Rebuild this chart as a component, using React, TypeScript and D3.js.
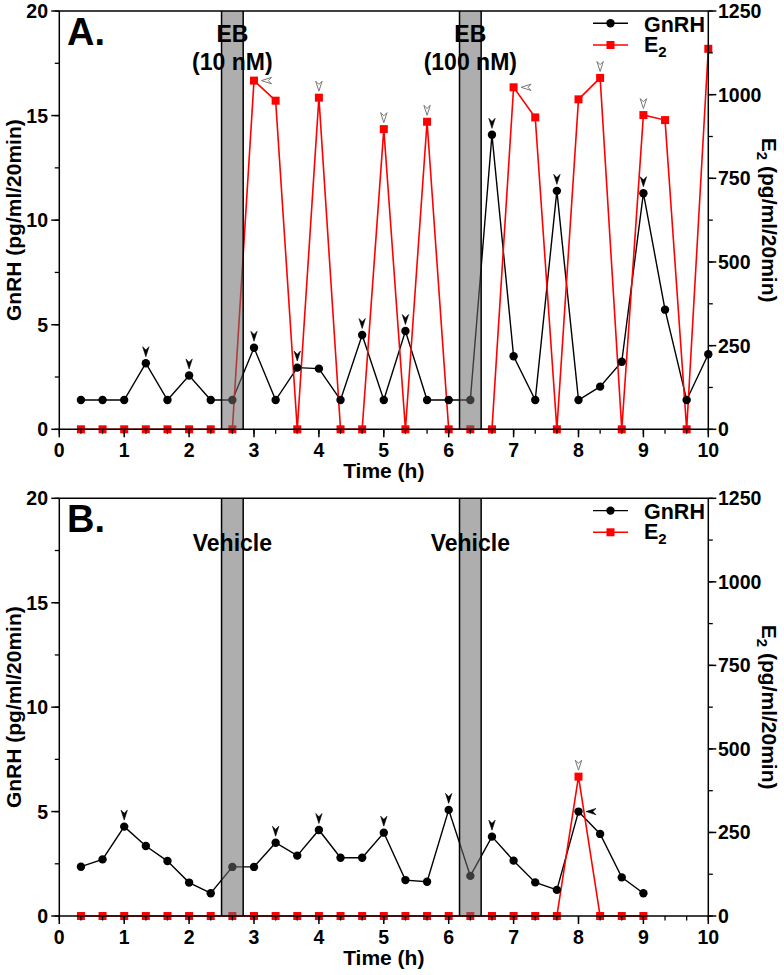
import React from "react";
import * as d3 from "d3";

// sampling times (minutes) and values
const minutesA = [20, 40, 60, 80, 100, 120, 140, 160, 180, 200, 220, 240, 260, 280, 300, 320, 340, 360, 380, 400, 420, 440, 460, 480, 500, 520, 540, 560, 580, 600];
const gnrhA = [1.4, 1.4, 1.4, 3.16, 1.4, 2.57, 1.4, 1.4, 3.9, 1.4, 2.95, 2.9, 1.4, 4.51, 1.4, 4.7, 1.4, 1.4, 1.4, 14.08, 3.49, 1.4, 11.4, 1.4, 2.04, 3.23, 11.29, 5.72, 1.4, 3.59];
const e2A = [0, 0, 0, 0, 0, 0, 0, 0, 1042, 982, 0, 991, 0, 0, 897, 0, 919, 0, 0, 0, 1022, 932, 0, 986, 1050, 0, 939, 924, 0, 1137];

const minutesB = [20, 40, 60, 80, 100, 120, 140, 160, 180, 200, 220, 240, 260, 280, 300, 320, 340, 360, 380, 400, 420, 440, 460, 480, 500, 520, 540];
const gnrhB = [2.36, 2.71, 4.28, 3.35, 2.63, 1.6, 1.09, 2.35, 2.35, 3.51, 2.89, 4.12, 2.79, 2.79, 3.99, 1.72, 1.64, 5.08, 1.92, 3.8, 2.65, 1.61, 1.25, 5.0, 3.93, 1.85, 1.09];
const e2B = [0, 0, 0, 0, 0, 0, 0, 0, 0, 0, 0, 0, 0, 0, 0, 0, 0, 0, 0, 0, 0, 0, 0, 417, 0, 0, 0];

// treatment windows (minutes)
const shadesMin = [[150, 170], [370, 390]];

// pulse arrows: sample minute, series, direction
type Mark = { min: number; s: "g" | "e"; dir: "down" | "left" };
const marksA: Mark[] = [
  { min: 80, s: "g", dir: "down" }, { min: 120, s: "g", dir: "down" }, { min: 180, s: "g", dir: "down" },
  { min: 220, s: "g", dir: "down" }, { min: 280, s: "g", dir: "down" }, { min: 320, s: "g", dir: "down" },
  { min: 400, s: "g", dir: "down" }, { min: 460, s: "g", dir: "down" }, { min: 540, s: "g", dir: "down" },
  { min: 180, s: "e", dir: "left" }, { min: 240, s: "e", dir: "down" }, { min: 300, s: "e", dir: "down" },
  { min: 340, s: "e", dir: "down" }, { min: 420, s: "e", dir: "left" }, { min: 500, s: "e", dir: "down" },
  { min: 540, s: "e", dir: "down" },
];
const marksB: Mark[] = [
  { min: 60, s: "g", dir: "down" }, { min: 200, s: "g", dir: "down" }, { min: 240, s: "g", dir: "down" },
  { min: 300, s: "g", dir: "down" }, { min: 360, s: "g", dir: "down" }, { min: 400, s: "g", dir: "down" },
  { min: 480, s: "g", dir: "left" }, { min: 480, s: "e", dir: "down" },
];

const xTicks = [0, 1, 2, 3, 4, 5, 6, 7, 8, 9, 10];
const leftTicks = [0, 5, 10, 15, 20];
const rightTicks = [0, 250, 500, 750, 1000, 1250];

const FONT = "'Liberation Sans', Arial, sans-serif";
const X0 = 59.3, X1 = 708.3;

type PanelProps = {
  top: number; bottom: number; letter: string; labels: string[][];
  minutes: number[]; gnrh: number[]; e2: number[]; marks: Mark[];
};

const Panel = ({ top, bottom, letter, labels, minutes, gnrh, e2, marks }: PanelProps) => {
  const x = d3.scaleLinear().domain([0, 10]).range([X0, X1]);
  const yL = d3.scaleLinear().domain([0, 20]).range([bottom, top]);
  const yR = d3.scaleLinear().domain([0, 1250]).range([bottom, top]);
  const gLine = d3.line<number>().x((_, i) => x(minutes[i] / 60)).y((d) => yL(d));
  const eLine = d3.line<number>().x((_, i) => x(minutes[i] / 60)).y((d) => yR(d));
  const minorX = d3.range(0, 31).map((k) => k / 3);
  const minorL = d3.range(0, 9).map((k) => k * 2.5);
  const minorR = d3.range(0, 11).map((k) => k * 125);
  const mid = (top + bottom) / 2;
  const idx = (m: number) => minutes.indexOf(m);

  return (
    <g>
      {/* lines & markers */}
      <path d={gLine(gnrh) || ""} fill="none" stroke="#000" strokeWidth={1.4} />
      <path d={eLine(e2) || ""} fill="none" stroke="#ff0000" strokeWidth={1.6} />
      {gnrh.map((d, i) => (
        <circle key={"g" + i} cx={x(minutes[i] / 60)} cy={yL(d)} r={4.2} fill="#000" />
      ))}
      {e2.map((d, i) => (
        <rect key={"e" + i} x={x(minutes[i] / 60) - 4} y={yR(d) - 4} width={8} height={8} fill="#ff0000" />
      ))}

      {/* treatment shading */}
      {shadesMin.map(([a, b], i) => (
        <g key={"s" + i}>
          <rect x={x(a / 60)} y={top} width={x(b / 60) - x(a / 60)} height={bottom - top} fill="#6b6b6b" fillOpacity={0.55} />
          <line x1={x(a / 60)} x2={x(a / 60)} y1={top} y2={bottom} stroke="#000" strokeWidth={1.5} />
          <line x1={x(b / 60)} x2={x(b / 60)} y1={top} y2={bottom} stroke="#000" strokeWidth={1.5} />
          {labels[i].map((t, j) => (
            <text key={j} x={(x(a / 60) + x(b / 60)) / 2} y={top + (labels[i].length > 1 ? 31 + j * 28 : 53)}
              textAnchor="middle" fontSize={23} fontWeight="bold" fill="#000">{t}</text>
          ))}
        </g>
      ))}

      {/* pulse arrows */}
      {marks.map((m, i) => {
        const k = idx(m.min);
        const cx = x(m.min / 60);
        const cy = m.s === "g" ? yL(gnrh[k]) : yR(e2[k]);
        const tx = m.dir === "down" ? cx : cx + 7.5;
        const ty = m.dir === "down" ? cy - 6.5 : cy;
        const rot = m.dir === "down" ? 0 : 90;
        const filled = m.s === "g";
        return (
          <path key={"m" + i} transform={`translate(${tx},${ty}) rotate(${rot})`}
            d="M0,0 L-3.2,-10 L0,-6.8 L3.2,-10 Z"
            fill={filled ? "#000" : "#fff"} stroke={filled ? "#000" : "#777"} strokeWidth={filled ? 0.6 : 1} />
        );
      })}

      {/* frame */}
      <line x1={X0} x2={X1} y1={top} y2={top} stroke="#000" strokeWidth={1.5} />
      <line x1={X0} x2={X1} y1={bottom} y2={bottom} stroke="#000" strokeWidth={1.5} />
      <line x1={X0} x2={X0} y1={top} y2={bottom} stroke="#000" strokeWidth={1.5} />
      <line x1={X1} x2={X1} y1={top} y2={bottom} stroke="#000" strokeWidth={1.5} />

      {/* x axis */}
      {minorX.map((t, i) => (
        <line key={"xm" + i} x1={x(t)} x2={x(t)} y1={bottom} y2={bottom + 4.5} stroke="#000" strokeWidth={1.3} />
      ))}
      {xTicks.map((t) => (
        <g key={"x" + t}>
          <line x1={x(t)} x2={x(t)} y1={bottom} y2={bottom + 8} stroke="#000" strokeWidth={1.5} />
          <text x={x(t)} y={bottom + 28} textAnchor="middle" fontSize={19.5} fontWeight="bold">{t}</text>
        </g>
      ))}
      <text x={(X0 + X1) / 2} y={bottom + 49} textAnchor="middle" fontSize={21} fontWeight="bold">Time (h)</text>

      {/* left axis */}
      {minorL.map((t, i) => (
        <line key={"lm" + i} x1={X0 - 4.5} x2={X0} y1={yL(t)} y2={yL(t)} stroke="#000" strokeWidth={1.3} />
      ))}
      {leftTicks.map((t) => (
        <g key={"l" + t}>
          <line x1={X0 - 8} x2={X0} y1={yL(t)} y2={yL(t)} stroke="#000" strokeWidth={1.5} />
          <text x={48} y={yL(t)} dy="0.36em" textAnchor="end" fontSize={19.5} fontWeight="bold">{t}</text>
        </g>
      ))}
      <text transform={`translate(20.5,${mid}) rotate(-90)`} textAnchor="middle" fontSize={21} fontWeight="bold">
        GnRH (pg/ml/20min)
      </text>

      {/* right axis */}
      {minorR.map((t, i) => (
        <line key={"rm" + i} x1={X1} x2={X1 + 4.5} y1={yR(t)} y2={yR(t)} stroke="#000" strokeWidth={1.3} />
      ))}
      {rightTicks.map((t) => (
        <g key={"r" + t}>
          <line x1={X1} x2={X1 + 8} y1={yR(t)} y2={yR(t)} stroke="#000" strokeWidth={1.5} />
          <text x={718} y={yR(t)} dy="0.36em" textAnchor="start" fontSize={19.5} fontWeight="bold">{t}</text>
        </g>
      ))}
      <text transform={`translate(762,${mid}) rotate(90)`} textAnchor="middle" fontSize={21} fontWeight="bold">
        E<tspan fontSize={15} dy={5}>2</tspan><tspan dy={-5}> (pg/ml/20min)</tspan>
      </text>

      {/* panel letter */}
      <text x={67} y={top + 34} fontSize={38} fontWeight="bold">{letter}</text>

      {/* legend */}
      <line x1={593} x2={628} y1={top + 12.3} y2={top + 12.3} stroke="#000" strokeWidth={1.4} />
      <circle cx={610.5} cy={top + 12.3} r={4.2} fill="#000" />
      <text x={644} y={top + 20.7} fontSize={21.5} fontWeight="bold">GnRH</text>
      <line x1={593} x2={628} y1={top + 34} y2={top + 34} stroke="#ff0000" strokeWidth={1.6} />
      <rect x={606.5} y={top + 30} width={8} height={8} fill="#ff0000" />
      <text x={644} y={top + 41} fontSize={21.5} fontWeight="bold">
        E<tspan fontSize={15} dy={5}>2</tspan>
      </text>
    </g>
  );
};

export default function App() {
  return (
    <svg width={784} height={975} style={{ position: "absolute", left: 0, top: 0, background: "#fff" }}
      fontFamily={FONT}>
      <rect width={784} height={975} fill="#fff" />
      <Panel top={11} bottom={429.3} letter="A." labels={[["EB", "(10 nM)"], ["EB", "(100 nM)"]]}
        minutes={minutesA} gnrh={gnrhA} e2={e2A} marks={marksA} />
      <Panel top={498.3} bottom={916} letter="B." labels={[["Vehicle"], ["Vehicle"]]}
        minutes={minutesB} gnrh={gnrhB} e2={e2B} marks={marksB} />
    </svg>
  );
}
